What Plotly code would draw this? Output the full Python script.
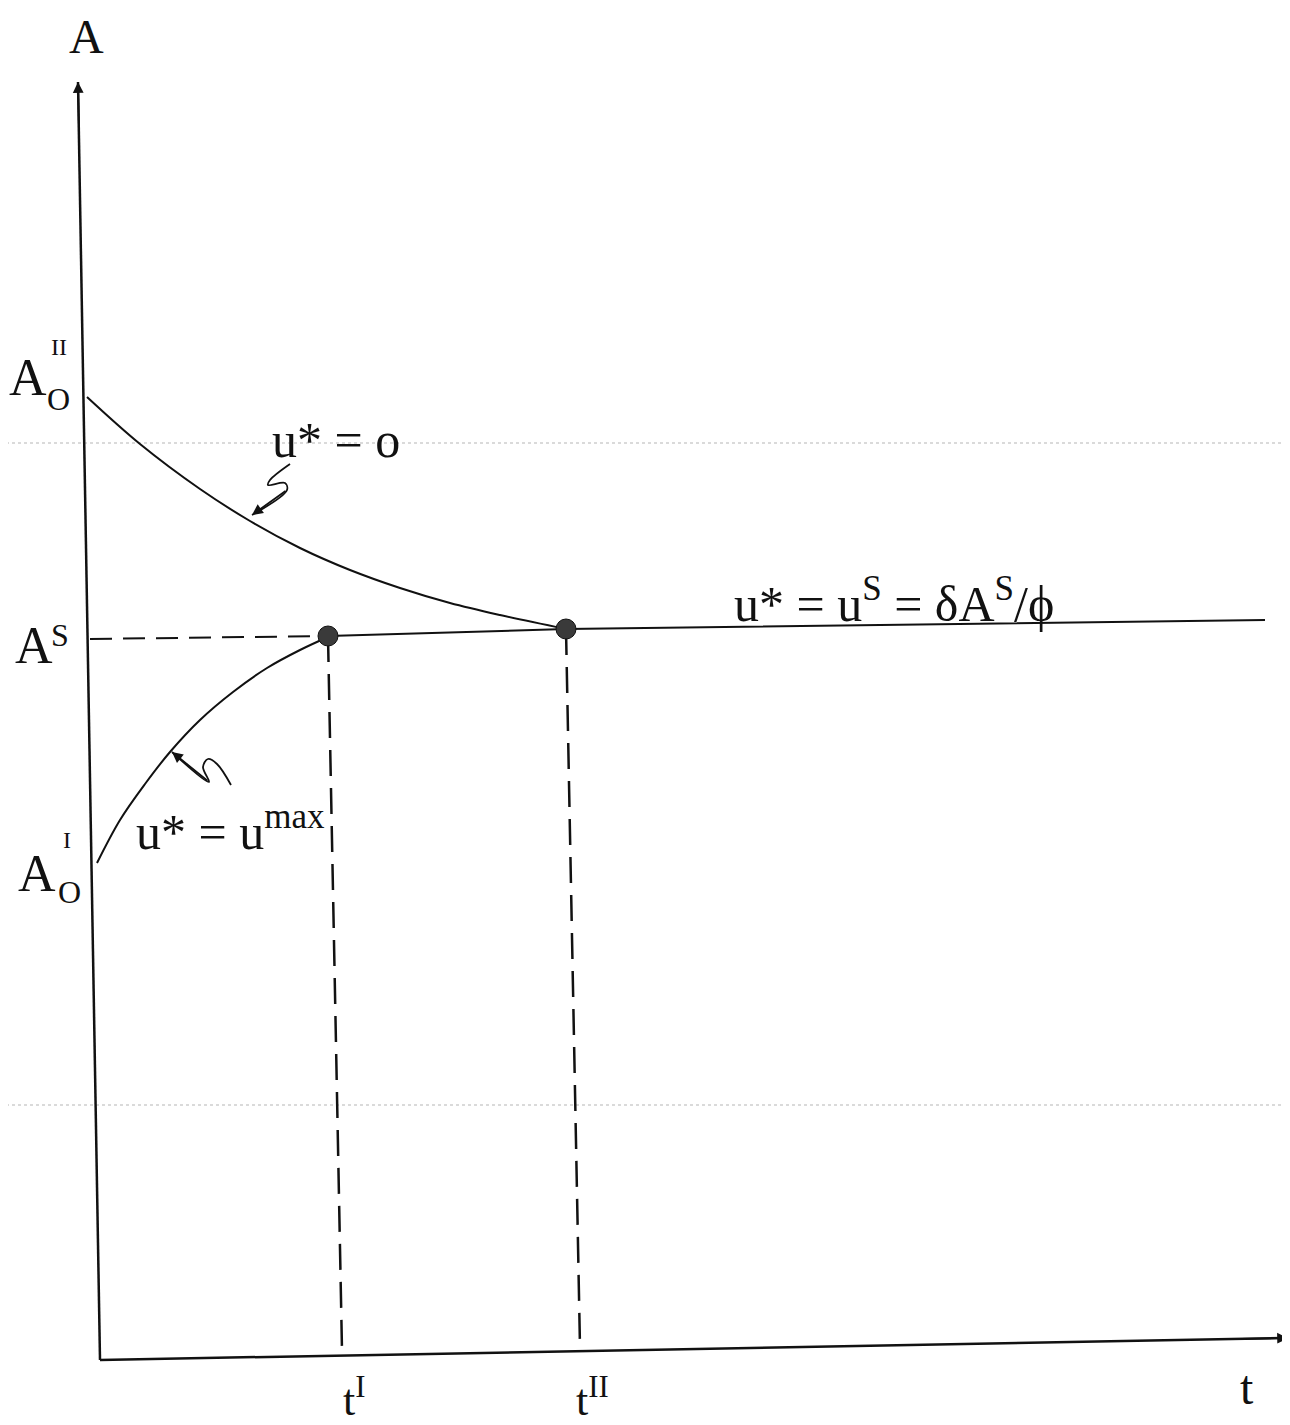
import plotly.graph_objects as go

# frame: t to the right, A upwards (origin at the axis corner)
axis_t = [0, 1188]
axis_tA = [0, 22]
axis_A_t = [0, -22]
axis_A = [0, 1278]

# u* = 0 path, starting at A0^II
upper_t = [-13, 40, 100, 150, 200, 250, 300, 350, 400, 466]
upper_A = [963, 916, 871, 839, 812, 790, 772, 757, 745, 731]

# u* = u^max path, starting at A0^I
lower_t = [-3, 20, 45, 70, 100, 133, 167, 200, 228]
lower_A = [497, 540, 576, 608, 640, 668, 692, 710, 723]

# steady state u* = u^s
steady_t = [228, 466, 1165]
steady_A = [724, 731, 740]

# switching points
switch_t = [228, 466]
switch_A = [724, 731]
switch_names = ["t<sup>I</sup>", "t<sup>II</sup>"]
drop_foot_t = [242, 480]
drop_foot_A = [10, 13]

# A^s guide
guide_t = [-10, 228]
guide_A = [721, 724]

# little squiggle arrows
sq1_t = [190, 170, 168, 185, 187, 152]
sq1_A = [896, 880, 875, 877, 870, 845]
sq2_t = [131, 117, 108, 103, 109, 72]
sq2_A = [575, 596, 601, 593, 578, 608]

# faint scanner lines
scan_A = [917, 255]

FONT = "Liberation Serif"
INK = "#111111"

fig = go.Figure()

for a in scan_A:
    fig.add_trace(go.Scatter(x=[-100, 1200], y=[a, a], mode="lines",
                             line=dict(color="#b5b5b5", width=1, dash="dot")))

fig.add_trace(go.Scatter(x=axis_t, y=axis_tA, mode="lines", line=dict(color=INK, width=2.5)))
fig.add_trace(go.Scatter(x=axis_A_t, y=axis_A, mode="lines", line=dict(color=INK, width=2.5)))

fig.add_trace(go.Scatter(x=guide_t, y=guide_A, mode="lines",
                         line=dict(color=INK, width=2, dash="22px,11px")))
for i in range(len(switch_t)):
    fig.add_trace(go.Scatter(x=[switch_t[i], drop_foot_t[i]], y=[switch_A[i], drop_foot_A[i]],
                             mode="lines", line=dict(color=INK, width=2.5, dash="26px,12px")))

fig.add_trace(go.Scatter(x=upper_t, y=upper_A, mode="lines", line=dict(color=INK, width=2, shape="spline")))
fig.add_trace(go.Scatter(x=lower_t, y=lower_A, mode="lines", line=dict(color=INK, width=2, shape="spline")))
fig.add_trace(go.Scatter(x=steady_t, y=steady_A, mode="lines", line=dict(color=INK, width=2)))

fig.add_trace(go.Scatter(x=sq1_t, y=sq1_A, mode="lines", line=dict(color=INK, width=1.8, shape="spline")))
fig.add_trace(go.Scatter(x=sq2_t, y=sq2_A, mode="lines", line=dict(color=INK, width=1.8, shape="spline")))

fig.add_trace(go.Scatter(x=switch_t, y=switch_A, mode="markers",
                         marker=dict(size=20, color="#3a3a3a", line=dict(color=INK, width=1))))

ann = []
# arrow heads
def head(x, y, ax, ay, size=1.2):
    ann.append(dict(x=x, y=y, ax=ax, ay=ay, xref="x", yref="y", axref="x", ayref="y",
                    showarrow=True, arrowhead=2, arrowsize=size, arrowwidth=1.8,
                    arrowcolor=INK, text=""))

head(axis_A_t[1], axis_A[1], -21, 1230)
head(axis_t[1], axis_tA[1], 1140, 21)
head(sq1_t[-1], sq1_A[-1], sq1_t[-2], sq1_A[-2])
head(sq2_t[-1], sq2_A[-1], sq2_t[-2], sq2_A[-2])

def label(x, y, text, size, xanchor="center"):
    ann.append(dict(x=x, y=y, xref="x", yref="y", text=text, showarrow=False,
                    xanchor=xanchor, yanchor="middle",
                    font=dict(family=FONT, size=size, color=INK)))

label(-14, 1324, "A", 48)
label(-72, 983, "A", 52)
label(-41, 1013, "II", 24)
label(-42, 961, "O", 32)
label(-66, 715, "A", 52)
label(-40, 725, "S", 32)
label(-63, 487, "A", 52)
label(-33, 520, "I", 24)
label(-31, 468, "O", 32)

label(170, 920, "u* = o", 50, "left")
label(34, 532, "u* = u<sup>max</sup>", 50, "left")
label(632, 760, "u* = u<sup>S</sup> = δA<sup>S</sup>/ϕ", 50, "left")

label(1147, -27, "t", 48)
for i in range(len(switch_t)):
    label(drop_foot_t[i] + 12, -37, switch_names[i], 44)

fig.update_layout(
    # page body has an 8px margin: shrink the paper so it fits, 1 unit = 1 px
    width=1282, height=1417,
    margin=dict(l=0, r=0, t=0, b=0),
    paper_bgcolor="white", plot_bgcolor="white",
    showlegend=False,
    xaxis=dict(range=[-92, 1190], visible=False, fixedrange=True),
    yaxis=dict(range=[-65, 1352], visible=False, fixedrange=True),
    annotations=ann,
)

fig.write_html("out.html")
